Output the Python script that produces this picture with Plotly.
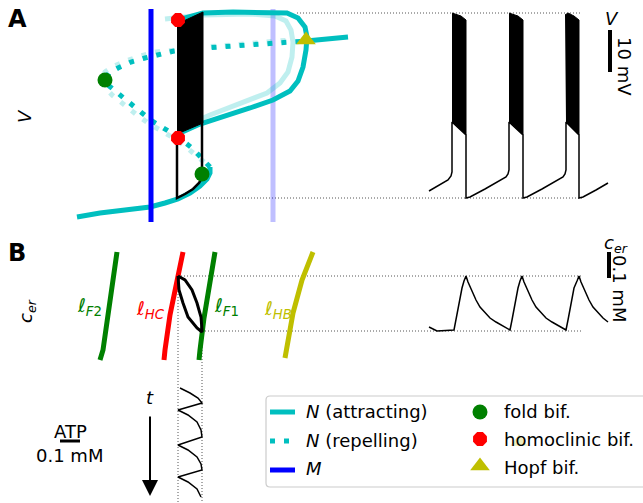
import plotly.graph_objects as go

# ---------------- data (figure px units) ----------------
# Panel A: critical manifold N, attracting lower branch
n_low_x = [77, 100, 125, 150, 165, 178, 190, 200, 207, 210, 210]
n_low_v = [217, 213, 210, 207, 203, 199, 193, 186, 179, 173, 167]
# repelling branch (middle + upper)
n_rep_x = [210, 202, 192, 178, 163, 152, 142, 130, 117, 108, 105, 109, 118, 131, 145, 159, 174, 190, 205, 233, 263, 292, 306]
n_rep_v = [167, 159, 148, 137, 128, 121, 113, 103, 93, 85, 80, 73, 68, 62, 58, 54, 51, 49, 48, 46, 43, 41, 41]
# attracting upper branch after Hopf
n_up_x = [306, 320, 335, 348]
n_up_v = [41, 40, 38, 37]
# periodic orbit envelope
po_x = [178, 203, 233, 267, 287, 298, 305, 307, 306, 303, 298, 290, 273, 250, 217, 200, 180, 178]
po_v = [20, 13, 12, 12, 13, 18, 27, 37, 50, 67, 81, 91, 100, 108, 118, 124, 133, 138]
# faint copies (second parameter value)
po2_x = [165, 178, 203, 250, 275, 286, 291, 293, 292, 288, 280, 267, 233, 210, 190, 178]
po2_v = [19, 18, 15, 14, 16, 21, 30, 42, 57, 72, 83, 93, 106, 115, 124, 132]
rep2_x = [204, 197, 186, 172, 160, 148, 137, 125, 112, 104, 101, 105, 114, 126, 140, 156, 172, 190, 205, 233, 263, 290]
rep2_v = [162, 156, 147, 137, 130, 123, 115, 105, 95, 86, 80, 72, 66, 61, 56, 52, 50, 48, 47, 45, 42, 40]
# M (nullcline) and second M
m_x = [151, 151]
m_v = [9, 222]
m2_x = [273, 273]
m2_v = [9, 222]
# bifurcation points
fold_x = [105, 202]
fold_v = [80, 174]
hc_x = [178, 178]
hc_v = [20, 138]
hopf_x = [306]
hopf_v = [40]
# bursting trajectory projected in (ATP, V)
traj_fill_x = [177, 203, 203, 177]
traj_fill_v = [24, 12, 123, 134]
traj_x = [177, 177, 185, 193, 199, 202, 202]
traj_v = [134, 198, 194, 189, 183, 178, 123]
# V time series (slow parts) and burst envelopes
vt_x = [429, 440, 448, 451, 452, 452, 466, 466, 470, 485, 500, 506, 508, 509, 509,
        523, 523, 527, 542, 557, 563, 565, 566, 566, 579, 579, 583, 596, 608]
vt_v = [191, 185, 180, 176, 172, 122, 135, 198, 197, 189, 181, 177, 174, 170, 122,
        135, 198, 197, 189, 181, 177, 174, 170, 122, 135, 198, 197, 190, 183]
burst_x = [452, 456, 461, 466, 466, 461, 456, 452, None,
           509, 513, 518, 523, 523, 518, 513, 509, None,
           565, 568, 574, 579, 579, 574, 570, 566]
burst_v = [13, 14, 16, 20, 135, 130, 125, 122, None,
           13, 14, 16, 20, 135, 130, 125, 122, None,
           15, 13, 16, 20, 135, 130, 125, 122]

# Panel B: curves in (ATP, c_er)
lF2_x = [117, 113, 109, 103, 100]
lF2_c = [252, 280, 313, 350, 360]
lHC_x = [183, 176, 170, 165, 164]
lHC_c = [252, 285, 315, 350, 360]
lF1_x = [215, 209, 204, 200, 199]
lF1_c = [252, 285, 318, 350, 360]
lHB_x = [313, 302, 293, 287, 285]
lHB_c = [252, 280, 313, 350, 358]
loop_x = [178, 179, 183, 188, 197, 202, 202, 201, 197, 192, 185, 178]
loop_c = [276, 290, 303, 317, 328, 332, 330, 317, 303, 290, 280, 276]
cer_t = [429, 433, 437, 454, 456, 458, 460, 462, 464, 466,
         468, 470, 473, 476, 480, 485, 490, 496, 503, 510,
         512, 514, 516, 518, 520, 522,
         524, 526, 529, 532, 536, 541, 546, 552, 559, 566,
         568, 570, 572, 574, 577, 579,
         581, 583, 586, 589, 593, 598, 603, 608]
cer_v = [327, 329, 331, 330, 320, 308, 297, 288, 281, 276,
         282, 287, 294, 300, 307, 313, 318, 322, 326, 330,
         320, 308, 297, 288, 281, 276,
         282, 287, 294, 300, 307, 313, 318, 322, 326, 330,
         320, 308, 297, 288, 281, 276,
         282, 287, 294, 300, 307, 313, 318, 322]
# ATP time course (bottom)
atp_x = [180, 190, 198, 202, 178, 188, 197, 201, 202, 178, 188, 197, 201, 202, 178, 188, 197, 201]
atp_t = [388, 393, 398, 403, 410, 415, 422, 430, 437, 445, 450, 457, 464, 470, 477, 482, 489, 497]

CYAN = "#00bfbf"
LCYAN = "rgba(0,191,191,0.25)"
GREEN = "#008000"
RED = "#ff0000"
OLIVE = "#bfbf00"
FONT = "DejaVu Sans"
DOT = "5px,9px"

fig = go.Figure()

def line(x, y, color, width, dash=None, **kw):
    fig.add_trace(go.Scatter(x=x, y=y, mode="lines", hoverinfo="skip", showlegend=False,
                             line=dict(color=color, width=width, dash=dash), **kw))

def dotted_guide(x, y):
    line(x, y, "#555555", 1, "1px,2px")

# guides
dotted_guide([297, 582], [13, 13])
dotted_guide([197, 582], [198, 198])
dotted_guide([178, 582], [276, 276])
dotted_guide([202, 582], [331, 331])
dotted_guide([178, 178], [276, 503])
dotted_guide([202, 202], [332, 503])

# panel A
line(m2_x, m2_v, "rgba(0,0,255,0.25)", 5)
line(po2_x, po2_v, LCYAN, 5)
line(rep2_x, rep2_v, LCYAN, 5, DOT)
line(n_low_x, n_low_v, CYAN, 5)
line(n_rep_x, n_rep_v, CYAN, 5, DOT)
line(n_up_x, n_up_v, CYAN, 5)
line(po_x, po_v, CYAN, 5)
line(m_x, m_v, "#0000ff", 5)
fig.add_trace(go.Scatter(x=traj_fill_x, y=traj_fill_v, mode="lines", fill="toself",
                         fillcolor="black", line=dict(color="black", width=1),
                         hoverinfo="skip", showlegend=False))
line(traj_x, traj_v, "black", 2.5)
fig.add_trace(go.Scatter(x=fold_x, y=fold_v, mode="markers", hoverinfo="skip", showlegend=False,
                         marker=dict(symbol="circle", size=15, color=GREEN)))
fig.add_trace(go.Scatter(x=hc_x, y=hc_v, mode="markers", hoverinfo="skip", showlegend=False,
                         marker=dict(symbol="octagon", size=15, color=RED)))
fig.add_trace(go.Scatter(x=hopf_x, y=hopf_v, mode="markers", hoverinfo="skip", showlegend=False,
                         marker=dict(symbol="triangle-up", size=17, color=OLIVE)))
# V time series
fig.add_trace(go.Scatter(x=burst_x, y=burst_v, mode="lines", fill="toself",
                         fillcolor="black", line=dict(color="black", width=1),
                         hoverinfo="skip", showlegend=False))
line(vt_x, vt_v, "black", 1.5)

# panel B
line(lF2_x, lF2_c, GREEN, 5)
line(lHC_x, lHC_c, RED, 5)
line(lF1_x, lF1_c, GREEN, 5)
line(lHB_x, lHB_c, OLIVE, 5)
line(loop_x, loop_c, "black", 3)
line(cer_t, cer_v, "black", 1.5)
line(atp_x, atp_t, "black", 1.5)

# legend glyph markers
fig.add_trace(go.Scatter(x=[480], y=[412], mode="markers", hoverinfo="skip", showlegend=False,
                         marker=dict(symbol="circle", size=15, color=GREEN)))
fig.add_trace(go.Scatter(x=[480], y=[439], mode="markers", hoverinfo="skip", showlegend=False,
                         marker=dict(symbol="octagon", size=15, color=RED)))
fig.add_trace(go.Scatter(x=[480], y=[466], mode="markers", hoverinfo="skip", showlegend=False,
                         marker=dict(symbol="triangle-up", size=17, color=OLIVE)))
fig.add_trace(go.Scatter(x=[519], y=[442], mode="markers", hoverinfo="skip", showlegend=False,
                         marker=dict(symbol="triangle-up", size=15, color="rgba(191,191,0,0.25)")))

shapes = [
    dict(type="path", layer="below", xref="x", yref="y",
         path="M 270,396 L 650,396 L 650,487 L 270,487 Q 266,487 266,483 L 266,400 Q 266,396 270,396 Z",
         line=dict(color="#cccccc", width=1.2), fillcolor="white"),
    dict(type="line", xref="x", yref="y", x0=270, x1=295, y0=412, y1=412, line=dict(color=CYAN, width=5)),
    dict(type="line", xref="x", yref="y", x0=270, x1=295, y0=441, y1=441, line=dict(color=CYAN, width=5, dash=DOT)),
    dict(type="line", xref="x", yref="y", x0=270, x1=295, y0=470, y1=470, line=dict(color="#0000ff", width=5)),
    # scale bars
    dict(type="line", xref="x", yref="y", x0=610, x1=610, y0=30, y1=72, line=dict(color="black", width=4)),
    dict(type="line", xref="x", yref="y", x0=609, x1=609, y0=252, y1=278, line=dict(color="black", width=4)),
    dict(type="line", xref="x", yref="y", x0=60, x1=80, y0=441, y1=441, line=dict(color="black", width=3)),
]

def ann(x, y, text, size=18, color="black", angle=0, xanchor="center", bold=False):
    return dict(x=x, y=y, xref="x", yref="y", text=("<b>%s</b>" % text) if bold else text,
                showarrow=False, textangle=angle, xanchor=xanchor, yanchor="middle",
                font=dict(family=FONT, size=size, color=color))

annotations = [
    ann(17, 19, "A", 24, bold=True),
    ann(17, 253, "B", 24, bold=True),
    ann(24, 116, "<i>V</i>", 18, angle=-90),
    ann(27, 311, "<i>c</i><sub><i>er</i></sub>", 18, angle=-90),
    ann(612, 18, "<i>V</i>", 18),
    ann(625, 66, "10 mV", 18, angle=90),
    ann(616, 244, "<i>c</i><sub><i>er</i></sub>", 18),
    ann(620, 288, "0.1 mM", 18, angle=90),
    ann(89, 306, "<i>ℓ</i><sub><i>F</i>2</sub>", 19, GREEN),
    ann(150, 309, "<i>ℓ</i><sub><i>HC</i></sub>", 19, RED),
    ann(226, 306, "<i>ℓ</i><sub><i>F</i>1</sub>", 19, GREEN),
    ann(278, 309, "<i>ℓ</i><sub><i>HB</i></sub>", 19, OLIVE),
    ann(150, 397, "<i>t</i>", 18),
    ann(70, 431, "ATP", 18),
    ann(69, 455, "0.1 mM", 18),
    ann(304, 411, "<i>N</i> (attracting)", 18, xanchor="left"),
    ann(304, 440, "<i>N</i> (repelling)", 18, xanchor="left"),
    ann(304, 468, "<i>M</i>", 18, xanchor="left"),
    ann(502, 411, "fold bif.", 18, xanchor="left"),
    ann(502, 439, "homoclinic bif.", 18, xanchor="left"),
    ann(502, 467, "Hopf bif.", 18, xanchor="left"),
    dict(x=150, y=496, ax=150, ay=415, xref="x", yref="y", axref="x", ayref="y",
         text="", showarrow=True, arrowhead=2, arrowsize=1.6, arrowwidth=2, arrowcolor="black"),
]

fig.update_layout(
    width=643, height=503, margin=dict(l=0, r=0, t=0, b=0),
    plot_bgcolor="white", paper_bgcolor="white", showlegend=False,
    xaxis=dict(range=[0, 643], visible=False, fixedrange=True),
    yaxis=dict(range=[503, 0], visible=False, fixedrange=True),
    shapes=shapes, annotations=annotations,
)

fig.write_html("out.html")
